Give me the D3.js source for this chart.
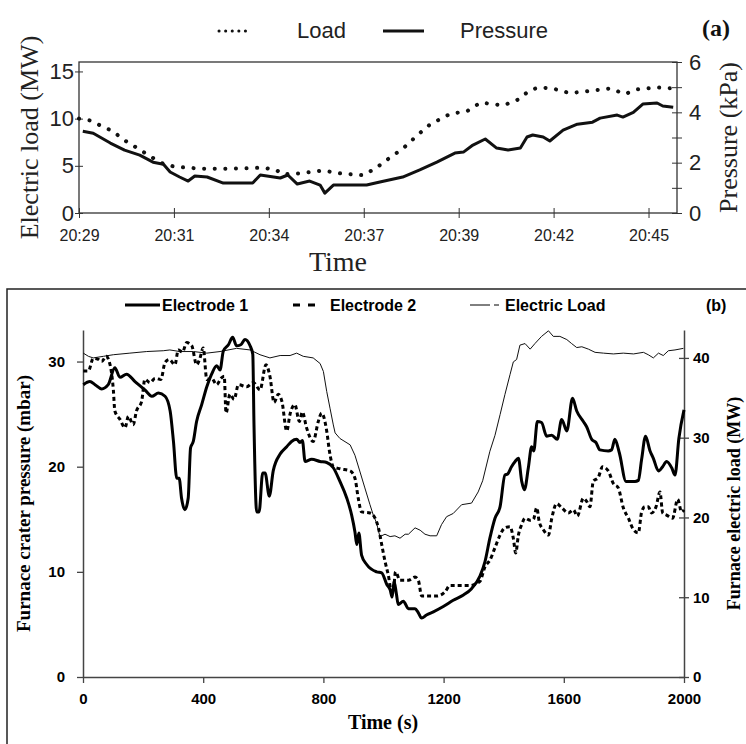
<!DOCTYPE html>
<html>
<head>
<meta charset="utf-8">
<script src="https://cdnjs.cloudflare.com/ajax/libs/d3/7.8.5/d3.min.js"></script>
<style>
  body { margin: 0; background: #fff; }
  svg { display: block; }
  .sans { font-family: "Liberation Sans", Arial, sans-serif; }
  .serif { font-family: "Liberation Serif", "Times New Roman", serif; }
</style>
</head>
<body>
<svg id="chart"></svg>
<script>
// ---- panel (a) data : time in tick units (20:29 = 0), load in MW, pressure in kPa
var timeLabels = ["20:29", "20:31", "20:34", "20:37", "20:39", "20:42", "20:45"];
var loadTicks = [0, 5, 10, 15];
var pressTicks = [0, 1, 2, 3, 4, 5, 6];

var loadT = [0, 0.12, 0.22, 0.35, 0.48, 0.61, 0.75, 0.89, 1.01, 1.28, 1.62, 1.93, 2.07, 2.15, 2.33, 2.57, 2.75, 2.99, 3.12, 3.28,
             3.41, 3.56, 3.70, 3.91, 4.09, 4.23, 4.31, 4.47, 4.62, 4.75, 4.84, 4.99, 5.17, 5.35, 5.60, 5.75, 5.88, 6.09, 6.26];
var loadMW = [10.0, 9.8, 9.3, 8.7, 7.7, 6.9, 6.0, 5.2, 4.9, 4.7, 4.7, 4.8, 4.6, 4.1, 4.2, 4.5, 4.2, 4.0, 4.7, 5.9,
              6.8, 8.2, 9.4, 10.5, 10.8, 11.7, 11.6, 11.4, 12.0, 13.0, 13.3, 13.2, 12.7, 12.9, 13.2, 12.6, 13.1, 13.3, 13.2];

var pressT = [0.04, 0.15, 0.33, 0.48, 0.64, 0.78, 0.89, 0.96, 1.06, 1.15, 1.22, 1.35, 1.52, 1.83, 1.91, 2.12, 2.20, 2.30, 2.43, 2.54,
              2.59, 2.68, 3.03, 3.17, 3.41, 3.59, 3.77, 3.96, 4.05, 4.15, 4.28, 4.40, 4.52, 4.65, 4.72, 4.78, 4.89, 4.96, 5.10, 5.25,
              5.41, 5.49, 5.67, 5.73, 5.84, 5.94, 6.09, 6.15, 6.26];
var pressKPa = [3.25, 3.17, 2.78, 2.50, 2.30, 2.02, 1.94, 1.63, 1.43, 1.27, 1.47, 1.43, 1.19, 1.19, 1.51, 1.39, 1.51, 1.15, 1.27, 1.11,
                0.79, 1.11, 1.11, 1.23, 1.43, 1.71, 2.02, 2.38, 2.42, 2.70, 2.94, 2.58, 2.50, 2.58, 3.02, 3.10, 3.02, 2.86, 3.29, 3.53,
                3.61, 3.77, 3.89, 3.81, 4.00, 4.33, 4.37, 4.25, 4.20];

// ---- panel (b) data : time in s, pressure in mbar, load in MW
var timeTicksB = [0, 400, 800, 1200, 1600, 2000];
var mbarTicks = [0, 10, 20, 30];
var mwTicks = [0, 10, 20, 30, 40];

var e1T = [1, 23, 40, 62, 84, 106, 123, 145, 173, 206, 229, 251, 273, 290, 301, 312, 320, 328, 339, 350,
           358, 367, 378, 395, 412, 428, 445, 456, 467, 484, 498, 511, 525, 539, 556, 565, 569, 578, 586, 598,
           606, 620, 633, 656, 678, 694, 711, 722, 730, 739, 761, 789, 811, 833, 855, 878, 894, 905, 911, 918,
           927, 944, 977, 994, 1011, 1022, 1029, 1035, 1043, 1049, 1066, 1083, 1105, 1116, 1127, 1143, 1166, 1199, 1232, 1266,
           1293, 1321, 1338, 1354, 1371, 1388, 1404, 1413, 1426, 1438, 1449, 1460, 1469, 1482, 1493, 1500, 1512, 1526, 1543, 1560,
           1578, 1593, 1610, 1629, 1643, 1665, 1676, 1693, 1707, 1720, 1748, 1759, 1770, 1785, 1807, 1820, 1837, 1848, 1859, 1872,
           1887, 1898, 1915, 1929, 1942, 1959, 1970, 1983, 2000];
var e1V = [27.8, 28.1, 27.8, 27.4, 27.8, 29.4, 28.5, 28.8, 28.1, 27.3, 26.7, 27.0, 26.7, 25.3, 22.4, 18.9, 18.9, 17.0, 15.9, 17.0,
           21.8, 22.4, 24.3, 25.9, 27.6, 28.8, 29.6, 29.2, 31.0, 31.6, 32.3, 31.5, 31.6, 32.1, 31.5, 30.7, 24.0, 15.7, 15.7, 19.4,
           19.4, 17.2, 19.6, 21.2, 21.9, 22.4, 22.6, 22.3, 22.5, 20.5, 20.7, 20.5, 20.4, 19.9, 18.6, 17.0, 15.4, 13.8, 12.6, 13.7,
           11.6, 10.7, 10.0, 9.9, 8.8, 8.3, 7.6, 9.1, 7.9, 6.9, 7.2, 6.5, 6.5, 6.1, 5.6, 5.9, 6.2, 6.7, 7.3, 7.8,
           8.4, 9.6, 11.0, 13.2, 15.1, 16.2, 19.2, 19.3, 20.0, 20.5, 20.8, 18.6, 17.8, 19.9, 21.9, 21.5, 24.3, 24.2, 22.9, 23.0,
           22.6, 24.5, 23.4, 26.5, 25.3, 24.3, 23.8, 22.6, 22.3, 21.6, 21.5, 21.6, 22.6, 21.3, 18.6, 18.6, 18.6, 18.7, 20.7, 22.9,
           21.5, 20.8, 19.6, 20.0, 20.5, 19.9, 19.2, 22.7, 25.4];

var e2T = [1, 18, 34, 51, 62, 77, 90, 101, 106, 123, 140, 151, 167, 178, 195, 206, 223, 240, 259, 273,
           287, 306, 317, 331, 345, 362, 378, 389, 400, 412, 428, 445, 459, 470, 476, 489, 503, 517, 545, 567,
           589, 609, 622, 636, 650, 662, 678, 689, 705, 720, 730, 744, 766, 783, 794, 811, 820, 833, 855, 889,
           905, 916, 927, 955, 972, 983, 994, 1005, 1016, 1025, 1033, 1040, 1055, 1083, 1105, 1116, 1127, 1143, 1177, 1205,
           1221, 1255, 1288, 1310, 1321, 1338, 1354, 1371, 1388, 1404, 1421, 1432, 1440, 1449, 1460, 1471, 1488, 1499, 1510, 1518,
           1532, 1549, 1560, 1576, 1593, 1615, 1632, 1645, 1665, 1676, 1687, 1698, 1715, 1729, 1748, 1765, 1781, 1798, 1815, 1832,
           1848, 1859, 1870, 1881, 1892, 1907, 1920, 1929, 1942, 1962, 1979, 1992, 2000];
var e2V = [29.1, 29.1, 30.3, 30.2, 30.0, 30.5, 29.7, 27.3, 25.3, 24.5, 23.7, 24.8, 24.0, 25.3, 26.2, 28.3, 28.0, 28.4, 28.3, 29.9,
           30.2, 29.7, 31.1, 30.9, 31.8, 31.5, 29.7, 30.3, 31.3, 28.3, 28.4, 27.8, 28.4, 28.6, 25.1, 26.9, 26.4, 27.8, 27.6, 28.0,
           27.3, 29.7, 28.6, 26.1, 26.9, 26.2, 23.4, 25.0, 25.9, 24.3, 25.2, 23.7, 22.4, 24.3, 25.1, 23.4, 21.5, 20.0, 19.8, 19.6,
           18.9, 17.0, 15.7, 15.6, 15.1, 14.2, 12.6, 11.0, 9.7, 8.4, 8.4, 10.0, 9.2, 9.2, 9.5, 9.2, 7.7, 7.7, 7.7, 8.1,
           8.7, 8.7, 8.7, 8.9, 9.1, 10.5, 11.1, 12.3, 13.5, 14.2, 14.3, 13.2, 11.8, 13.5, 14.5, 15.1, 14.9, 15.0, 16.1, 14.8,
           14.0, 13.5, 15.1, 16.5, 16.1, 15.6, 15.9, 15.3, 17.0, 16.7, 16.2, 18.6, 19.0, 20.0, 19.6, 18.4, 18.0, 16.1, 15.1, 14.0,
           13.7, 15.7, 16.2, 16.2, 15.6, 16.2, 17.6, 15.6, 15.4, 15.1, 16.9, 15.7, 15.9];

var elT = [1, 18, 34, 68, 101, 156, 212, 267, 289, 322, 367, 412, 456, 511, 556, 589, 622, 656, 689, 711,
           733, 766, 789, 800, 811, 822, 833, 839, 855, 889, 905, 922, 938, 955, 966, 977, 988, 1005, 1022, 1038,
           1055, 1072, 1083, 1105, 1122, 1138, 1155, 1177, 1193, 1210, 1232, 1260, 1293, 1315, 1330, 1354, 1371, 1388, 1404, 1421,
           1432, 1443, 1454, 1471, 1488, 1504, 1526, 1549, 1565, 1587, 1610, 1626, 1643, 1660, 1682, 1704, 1732, 1765, 1798, 1832,
           1865, 1881, 1898, 1915, 1931, 1948, 1970, 1998];
var elMW = [40.6, 40.2, 40.0, 40.2, 40.4, 40.6, 40.8, 40.9, 41.0, 40.8, 40.8, 40.6, 40.8, 41.2, 41.0, 40.4, 40.0, 40.3, 40.3, 40.6,
            40.2, 40.0, 39.3, 38.3, 35.8, 33.7, 31.6, 30.6, 29.9, 29.1, 27.8, 25.7, 23.7, 21.6, 20.3, 19.3, 17.6, 17.9, 17.6, 17.7,
            17.4, 17.9, 17.9, 18.7, 18.4, 17.9, 17.7, 17.7, 19.1, 20.1, 20.5, 21.6, 21.8, 23.2, 24.6, 28.3, 30.3, 32.9, 35.4, 37.9,
            39.5, 39.8, 41.6, 41.8, 41.1, 41.8, 42.7, 43.4, 42.7, 42.7, 42.3, 41.8, 41.3, 41.4, 41.1, 40.7, 40.6, 40.5, 40.6, 40.5,
            40.7, 40.4, 40.0, 40.6, 40.3, 40.9, 41.0, 41.2];

function pairs(xs, ys) {
  return xs.map(function(x, i) { return [x, ys[i]]; });
}

var W = 746, H = 744;
var svg = d3.select("#chart").attr("width", W).attr("height", H);

/*
 *    P A N E L   (a)
 */
var xa = d3.scaleLinear().domain([0, 6.3]).range([79, 677]),
    ya = d3.scaleLinear().domain([0, 16]).range([213, 62]),
    yp = d3.scaleLinear().domain([0, 6]).range([213, 62]);

var ga = svg.append("g").attr("class", "panelA");
var axisColA = "#333";

// box
ga.append("rect")
  .attr("x", xa.range()[0]).attr("y", ya.range()[1])
  .attr("width", xa.range()[1] - xa.range()[0])
  .attr("height", ya.range()[0] - ya.range()[1])
  .attr("fill", "none").attr("stroke", axisColA).attr("stroke-width", 1.3);

// bottom axis
var axA = ga.append("g")
  .attr("transform", "translate(0," + ya.range()[0] + ")")
  .call(d3.axisBottom(xa).tickValues(d3.range(timeLabels.length))
        .tickFormat(function(d, i) { return timeLabels[i]; }).tickSizeOuter(0));
axA.select(".domain").remove();
axA.selectAll(".tick line").attr("y1", -5).attr("y2", 5).attr("stroke", axisColA);
axA.selectAll(".tick text").attr("y", 17).attr("class", "sans")
  .style("font-size", "16px").attr("fill", "#222");

// left axis
var ayA = ga.append("g")
  .attr("transform", "translate(" + xa.range()[0] + ",0)")
  .call(d3.axisLeft(ya).tickValues(loadTicks).tickSizeOuter(0));
ayA.select(".domain").remove();
ayA.selectAll(".tick line").attr("x1", -4).attr("x2", 4).attr("stroke", axisColA);
ayA.selectAll(".tick text").attr("x", -5).attr("class", "sans")
  .style("font-size", "22px").attr("fill", "#222");

// right axis
var apA = ga.append("g")
  .attr("transform", "translate(" + xa.range()[1] + ",0)")
  .call(d3.axisRight(yp).tickValues(pressTicks)
        .tickFormat(function(d) { return d % 2 === 0 ? d : ""; }).tickSizeOuter(0));
apA.select(".domain").remove();
apA.selectAll(".tick line").attr("x1", -5).attr("x2", 5).attr("stroke", axisColA);
apA.selectAll(".tick text").attr("x", 12).attr("class", "sans")
  .style("font-size", "22px").attr("fill", "#222");

// lines
var loadLine = d3.line()
  .x(function(d) { return xa(d[0]); })
  .y(function(d) { return ya(d[1]); });
var pressLine = d3.line()
  .x(function(d) { return xa(d[0]); })
  .y(function(d) { return yp(d[1]); });

ga.append("path").datum(pairs(loadT, loadMW))
  .attr("d", loadLine)
  .attr("fill", "none").attr("stroke", "#111")
  .attr("stroke-width", 4).attr("stroke-linecap", "round")
  .attr("stroke-dasharray", "0.1,10.5");

ga.append("path").datum(pairs(pressT, pressKPa))
  .attr("d", pressLine)
  .attr("fill", "none").attr("stroke", "#111")
  .attr("stroke-width", 3).attr("stroke-linejoin", "round");

// titles
ga.append("text").attr("class", "serif")
  .attr("transform", "translate(38," + d3.mean(ya.range()) + ") rotate(-90)")
  .attr("text-anchor", "middle").style("font-size", "26px").attr("fill", "#222")
  .text("Electric load (MW)");
ga.append("text").attr("class", "serif")
  .attr("transform", "translate(737," + d3.mean(ya.range()) + ") rotate(-90)")
  .attr("text-anchor", "middle").style("font-size", "26px").attr("fill", "#222")
  .text("Pressure (kPa)");
ga.append("text").attr("class", "serif")
  .attr("x", 338).attr("y", 271)
  .attr("text-anchor", "middle").style("font-size", "28px").attr("fill", "#222")
  .text("Time");

// legend
var legA = ga.append("g").attr("class", "legendA");
legA.append("line").attr("x1", 219).attr("x2", 252).attr("y1", 31).attr("y2", 31)
  .attr("stroke", "#111").attr("stroke-width", 3).attr("stroke-linecap", "round")
  .attr("stroke-dasharray", "0.1,6.5");
legA.append("text").attr("class", "sans").attr("x", 297).attr("y", 38)
  .style("font-size", "22px").attr("fill", "#222").text("Load");
legA.append("line").attr("x1", 383).attr("x2", 424).attr("y1", 31).attr("y2", 31)
  .attr("stroke", "#111").attr("stroke-width", 3);
legA.append("text").attr("class", "sans").attr("x", 460).attr("y", 38)
  .style("font-size", "22px").attr("fill", "#222").text("Pressure");
legA.append("text").attr("class", "serif").attr("x", 702).attr("y", 36)
  .style("font-size", "24px").style("font-weight", "bold").attr("fill", "#111").text("(a)");

/*
 *    P A N E L   (b)
 */
var xb = d3.scaleLinear().domain([0, 2000]).range([83, 684]),
    yb = d3.scaleLinear().domain([0, 33]).range([677, 330]),
    yl = d3.scaleLinear().domain([0, 43.5]).range([677, 330]);

var gb = svg.append("g").attr("class", "panelB");
var axisColB = "#444";

// outer frame (top + left edges only)
gb.append("path")
  .attr("d", "M7,744 L7,289 L746,289")
  .attr("fill", "none").attr("stroke", "#222").attr("stroke-width", 1.5);

var axB = gb.append("g")
  .attr("transform", "translate(0," + yb.range()[0] + ")")
  .call(d3.axisBottom(xb).tickValues(timeTicksB).tickFormat(d3.format("d"))
        .tickSize(6).tickSizeOuter(0).tickPadding(10));
axB.select(".domain").attr("stroke", axisColB).attr("stroke-width", 1.5);
axB.selectAll(".tick line").attr("stroke", axisColB).attr("stroke-width", 1.3);
axB.selectAll(".tick text").attr("class", "sans")
  .style("font-size", "15px").style("font-weight", "bold").attr("fill", "#000");

var ayB = gb.append("g")
  .attr("transform", "translate(" + xb.range()[0] + ",0)")
  .call(d3.axisLeft(yb).tickValues(mbarTicks).tickSize(6).tickSizeOuter(0).tickPadding(12));
ayB.select(".domain").attr("stroke", axisColB).attr("stroke-width", 1.5);
ayB.selectAll(".tick line").attr("stroke", axisColB).attr("stroke-width", 1.3);
ayB.selectAll(".tick text").attr("class", "sans")
  .style("font-size", "15px").style("font-weight", "bold").attr("fill", "#000");

var alB = gb.append("g")
  .attr("transform", "translate(" + xb.range()[1] + ",0)")
  .call(d3.axisRight(yl).tickValues(mwTicks).tickSizeOuter(0));
alB.select(".domain").attr("stroke", axisColB).attr("stroke-width", 1.5);
alB.selectAll(".tick line").attr("x1", -5).attr("x2", 5).attr("stroke", axisColB).attr("stroke-width", 1.3);
alB.selectAll(".tick text").attr("x", 9).attr("class", "sans")
  .style("font-size", "15px").style("font-weight", "bold").attr("fill", "#000");

var e1Line = d3.line().curve(d3.curveMonotoneX)
  .x(function(d) { return xb(d[0]); })
  .y(function(d) { return yb(d[1]); });
var elLine = d3.line()
  .x(function(d) { return xb(d[0]); })
  .y(function(d) { return yl(d[1]); });

gb.append("path").datum(pairs(elT, elMW))
  .attr("d", elLine)
  .attr("fill", "none").attr("stroke", "#111").attr("stroke-width", 1);

gb.append("path").datum(pairs(e2T, e2V))
  .attr("d", e1Line)
  .attr("fill", "none").attr("stroke", "#000").attr("stroke-width", 3)
  .attr("stroke-dasharray", "4,3");

gb.append("path").datum(pairs(e1T, e1V))
  .attr("d", e1Line)
  .attr("fill", "none").attr("stroke", "#000").attr("stroke-width", 3)
  .attr("stroke-linejoin", "round");

// titles
gb.append("text").attr("class", "serif")
  .attr("transform", "translate(30," + d3.mean(yb.range()) + ") rotate(-90)")
  .attr("text-anchor", "middle").style("font-size", "19px").style("font-weight", "bold")
  .text("Furnace crater pressure (mbar)");
gb.append("text").attr("class", "serif")
  .attr("transform", "translate(740," + d3.mean(yb.range()) + ") rotate(-90)")
  .attr("text-anchor", "middle").style("font-size", "18px").style("font-weight", "bold")
  .text("Furnace electric load (MW)");
gb.append("text").attr("class", "serif")
  .attr("x", 383).attr("y", 729)
  .attr("text-anchor", "middle").style("font-size", "20px").style("font-weight", "bold")
  .text("Time (s)");

// legend
var legB = gb.append("g").attr("class", "legendB");
legB.append("line").attr("x1", 125).attr("x2", 160).attr("y1", 305).attr("y2", 305)
  .attr("stroke", "#000").attr("stroke-width", 3);
legB.append("text").attr("class", "sans").attr("x", 162).attr("y", 311)
  .style("font-size", "16px").style("font-weight", "bold").text("Electrode 1");
legB.append("line").attr("x1", 293).attr("x2", 316).attr("y1", 305).attr("y2", 305)
  .attr("stroke", "#000").attr("stroke-width", 3).attr("stroke-dasharray", "7,8");
legB.append("text").attr("class", "sans").attr("x", 330).attr("y", 311)
  .style("font-size", "16px").style("font-weight", "bold").text("Electrode 2");
legB.append("line").attr("x1", 470).attr("x2", 490).attr("y1", 305).attr("y2", 305)
  .attr("stroke", "#000").attr("stroke-width", 1);
legB.append("line").attr("x1", 494).attr("x2", 499).attr("y1", 305).attr("y2", 305)
  .attr("stroke", "#000").attr("stroke-width", 1);
legB.append("text").attr("class", "sans").attr("x", 505).attr("y", 311)
  .style("font-size", "16px").style("font-weight", "bold").text("Electric Load");
legB.append("text").attr("class", "sans").attr("x", 706).attr("y", 311)
  .style("font-size", "16px").style("font-weight", "bold").text("(b)");
</script>
</body>
</html>
